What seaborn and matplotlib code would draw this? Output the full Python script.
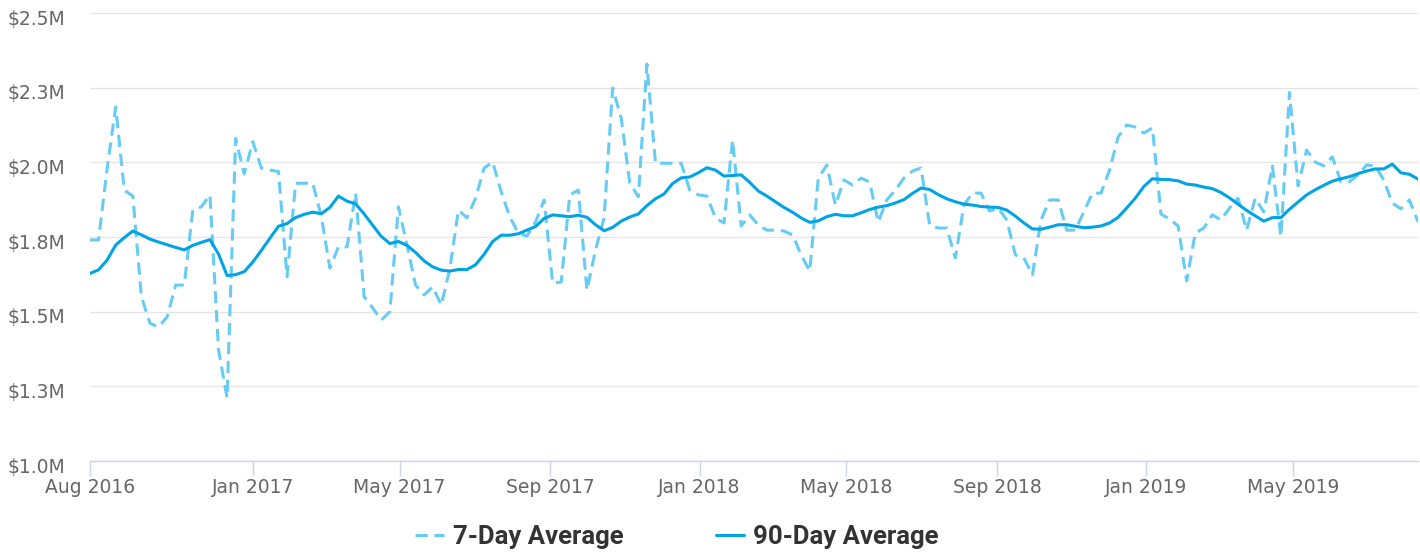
import matplotlib
matplotlib.use("Agg")
import matplotlib.pyplot as plt
import matplotlib.transforms as mtransforms
import numpy as np
import pandas as pd
import seaborn as sns

# weekly points, first one on 2016-08-21
START = "2016-08-21"

SEVEN_DAY = [
    1.740, 1.740, 1.980, 2.185, 1.907, 1.887, 1.550, 1.461, 1.449, 1.482,
    1.589, 1.589, 1.840, 1.851, 1.891, 1.372, 1.211, 2.080, 1.961, 2.069,
    1.981, 1.974, 1.969, 1.617, 1.930, 1.930, 1.930, 1.818, 1.646, 1.717,
    1.717, 1.896, 1.550, 1.512, 1.472, 1.500, 1.851, 1.723, 1.589, 1.556,
    1.583, 1.522, 1.643, 1.840, 1.814, 1.880, 1.981, 2.001, 1.901, 1.817,
    1.763, 1.753, 1.800, 1.874, 1.596, 1.599, 1.891, 1.907, 1.572, 1.706,
    1.814, 2.249, 2.148, 1.931, 1.885, 2.329, 1.997, 1.997, 1.997, 1.997,
    1.907, 1.891, 1.887, 1.814, 1.797, 2.075, 1.787, 1.824, 1.790, 1.773,
    1.773, 1.770, 1.757, 1.690, 1.636, 1.947, 1.991, 1.857, 1.941, 1.924,
    1.947, 1.934, 1.800, 1.874, 1.907, 1.947, 1.971, 1.981, 1.790, 1.780,
    1.780, 1.680, 1.857, 1.897, 1.897, 1.837, 1.847, 1.807, 1.690, 1.680,
    1.623, 1.807, 1.874, 1.874, 1.773, 1.773, 1.834, 1.897, 1.897, 1.974,
    2.085, 2.125, 2.118, 2.098, 2.115, 1.827, 1.810, 1.787, 1.603, 1.763,
    1.780, 1.824, 1.807, 1.847, 1.880, 1.773, 1.880, 1.834, 1.988, 1.751,
    2.234, 1.921, 2.041, 2.001, 1.988, 2.018, 1.935, 1.935, 1.958, 1.991,
    1.988, 1.941, 1.864, 1.844, 1.874, 1.801,
]

NINETY_DAY = [
    1.628, 1.640, 1.673, 1.723, 1.748, 1.770, 1.757, 1.743, 1.733, 1.724,
    1.715, 1.707, 1.722, 1.732, 1.741, 1.693, 1.621, 1.624, 1.634, 1.666,
    1.705, 1.746, 1.786, 1.795, 1.815, 1.826, 1.833, 1.828, 1.849, 1.887,
    1.870, 1.861, 1.827, 1.789, 1.752, 1.728, 1.735, 1.722, 1.698, 1.670,
    1.650, 1.639, 1.636, 1.641, 1.641, 1.657, 1.692, 1.735, 1.756, 1.756,
    1.761, 1.773, 1.785, 1.812, 1.824, 1.821, 1.818, 1.823, 1.816, 1.791,
    1.771, 1.782, 1.803, 1.817, 1.827, 1.855, 1.878, 1.894, 1.929, 1.948,
    1.951, 1.965, 1.982, 1.974, 1.954, 1.956, 1.958, 1.933, 1.904, 1.887,
    1.868, 1.849, 1.833, 1.814, 1.799, 1.804, 1.818, 1.826, 1.821, 1.821,
    1.831, 1.842, 1.850, 1.855, 1.864, 1.875, 1.896, 1.914, 1.909, 1.892,
    1.878, 1.868, 1.860, 1.857, 1.852, 1.850, 1.849, 1.840, 1.820, 1.797,
    1.777, 1.776, 1.783, 1.791, 1.791, 1.786, 1.781, 1.783, 1.787, 1.797,
    1.816, 1.847, 1.880, 1.919, 1.945, 1.943, 1.942, 1.938, 1.927, 1.924,
    1.917, 1.912, 1.899, 1.881, 1.860, 1.839, 1.821, 1.803, 1.815, 1.815,
    1.843, 1.867, 1.891, 1.908, 1.923, 1.937, 1.945, 1.952, 1.962, 1.971,
    1.978, 1.978, 1.994, 1.965, 1.960, 1.944,
]

SERIES = ["7-Day Average", "90-Day Average"]
PALETTE = {"7-Day Average": "#66CCF5", "90-Day Average": "#00A4E4"}
DASHES = {"7-Day Average": (4, 2.2), "90-Day Average": ""}

Y_TICKS = [1.0, 1.25, 1.5, 1.75, 2.0, 2.25, 2.5]
Y_LABELS = ["$1.0M", "$1.3M", "$1.5M", "$1.8M", "$2.0M", "$2.3M", "$2.5M"]

X_TICKS = ["2016-08-21", "2017-01-01", "2017-05-01", "2017-09-01", "2018-01-01",
           "2018-05-01", "2018-09-01", "2019-01-01", "2019-05-01"]
X_LABELS = ["Aug 2016", "Jan 2017", "May 2017", "Sep 2017", "Jan 2018",
            "May 2018", "Sep 2018", "Jan 2019", "May 2019"]

dates = pd.date_range(START, periods=len(NINETY_DAY), freq="7D")
df = pd.DataFrame({"date": dates, SERIES[0]: SEVEN_DAY, SERIES[1]: NINETY_DAY})
long = df.melt(id_vars="date", var_name="series", value_name="value")

sns.set_style("white")
plt.rcParams["font.family"] = ["DejaVu Sans"]

fig = plt.figure(figsize=(14.2, 5.52), dpi=100)
ax = fig.add_axes([90 / 1420, 1 - 461 / 552, 1328 / 1420, 448 / 552])

sns.lineplot(data=long, x="date", y="value", hue="series", style="series",
             hue_order=SERIES, style_order=SERIES, palette=PALETTE, dashes=DASHES,
             linewidth=2.2, ax=ax, legend=True)

ax.set_xlim(dates[0], dates[-1])
ax.set_ylim(1.0, 2.5)
ax.set_yticks(Y_TICKS)
ax.set_yticklabels(Y_LABELS)
ax.set_xticks(pd.to_datetime(X_TICKS))
ax.set_xticklabels(X_LABELS)
ax.set_xlabel("")
ax.set_ylabel("")

ax.grid(axis="y", color="#e6e6e6", linewidth=1.0)
ax.set_axisbelow(True)
for side in ["top", "left", "right"]:
    ax.spines[side].set_visible(False)
ax.spines["bottom"].set_color("#ccd6eb")
ax.spines["bottom"].set_linewidth(1.0)

ax.tick_params(axis="x", bottom=True, length=11, width=1.0, color="#ccd6eb", pad=1.5,
               labelsize=13.5, labelcolor="#666666")
ax.tick_params(axis="y", left=False, length=0, pad=18, labelsize=13.5, labelcolor="#666666")
offset = mtransforms.ScaledTranslation(0, -4 / 100, fig.dpi_scale_trans)
for lbl in ax.get_yticklabels():
    lbl.set_transform(lbl.get_transform() + offset)

handles, labels = ax.get_legend_handles_labels()
ax.get_legend().remove()
fig.legend(handles, labels, loc="center", bbox_to_anchor=(677 / 1420, 1 - 537 / 552),
           ncol=2, frameon=False, handlelength=1.1, handletextpad=0.35,
           columnspacing=3.6,
           prop={"family": ["Liberation Sans Narrow", "Roboto"], "weight": "bold", "size": 18.5},
           labelcolor="#333333")

fig.savefig("out.png", dpi=100)
